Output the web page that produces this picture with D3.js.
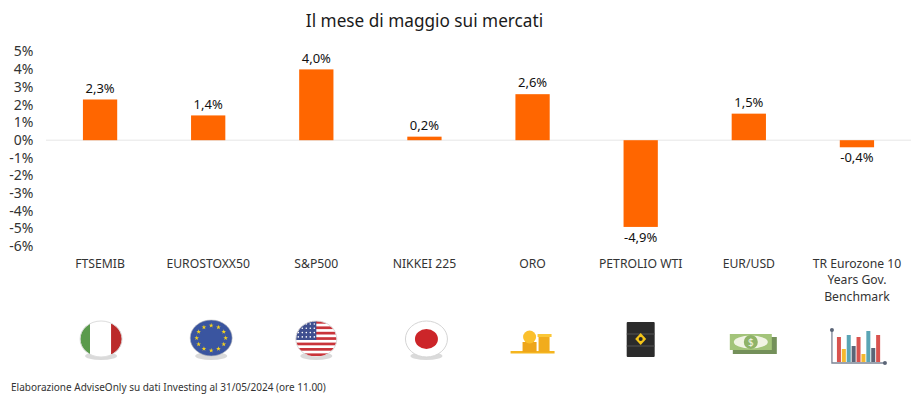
<!DOCTYPE html>
<html>
<head>
<meta charset="utf-8">
<script src="https://cdn.jsdelivr.net/npm/d3@7"></script>
<style>
  html, body { margin: 0; padding: 0; background: #fff; }
  text { font-family: "Noto Sans", sans-serif; }
</style>
</head>
<body>
<div id="chart"></div>
<script>
// Chart values
const categories = ["FTSEMIB", "EUROSTOXX50", "S&P500", "NIKKEI 225", "ORO", "PETROLIO WTI", "EUR/USD", "TR Eurozone 10|Years Gov.|Benchmark"];
const values = [2.3, 1.4, 4.0, 0.2, 2.6, -4.9, 1.5, -0.4];
const valueLabels = ["2,3%", "1,4%", "4,0%", "0,2%", "2,6%", "-4,9%", "1,5%", "-0,4%"];
const yTicks = [5, 4, 3, 2, 1, 0, -1, -2, -3, -4, -5, -6];
const iconNames = ["italy", "eu", "usa", "japan", "gold", "barrel", "cash", "bars"];
const title = "Il mese di maggio sui mercati";
const source = "Elaborazione AdviseOnly su dati Investing al 31/05/2024 (ore 11.00)";

const svg = d3.select("#chart").append("svg")
  .attr("width", 920)
  .attr("height", 406);

const x = d3.scaleBand().domain(categories).range([46, 911]).paddingInner(0.683).paddingOuter(0.3415);
const y = d3.scaleLinear().domain([-6, 5]).range([246.4, 51.7]);

svg.append("text")
  .attr("x", 424.5).attr("y", 27)
  .attr("text-anchor", "middle")
  .attr("font-size", 17.2)
  .attr("fill", "#1a1a1a")
  .text(title);

// y axis, labels only
const yAxis = svg.append("g")
  .attr("transform", "translate(33.5,0)")
  .call(d3.axisLeft(y).tickValues(yTicks).tickSize(0).tickPadding(0).tickFormat(d => d + "%"));
yAxis.select(".domain").remove();
yAxis.selectAll("text")
  .attr("font-size", 14)
  .attr("font-family", '"Noto Sans", sans-serif')
  .attr("dy", "0.3em")
  .attr("fill", "#333");

// zero line
svg.append("line")
  .attr("x1", 46).attr("x2", 911)
  .attr("y1", y(0)).attr("y2", y(0))
  .attr("stroke", "#e6e6e6");

svg.selectAll("rect.bar")
  .data(values)
  .enter()
  .append("rect")
  .attr("class", "bar")
  .attr("x", (d, i) => x(categories[i]))
  .attr("width", x.bandwidth())
  .attr("y", d => y(Math.max(d, 0)))
  .attr("height", d => Math.abs(y(d) - y(0)))
  .attr("fill", "#ff6600");

svg.selectAll("text.value")
  .data(values)
  .enter()
  .append("text")
  .attr("class", "value")
  .attr("x", (d, i) => x(categories[i]) + x.bandwidth() / 2)
  .attr("y", d => d >= 0 ? y(d) - 11.5 : y(d) + 10.5)
  .attr("dy", "0.36em")
  .attr("text-anchor", "middle")
  .attr("font-size", 13)
  .attr("fill", "#111")
  .text((d, i) => valueLabels[i]);

// category labels, some on several lines
const catGroup = svg.selectAll("g.cat")
  .data(categories)
  .enter()
  .append("g")
  .attr("class", "cat")
  .attr("transform", d => `translate(${x(d) + x.bandwidth() / 2},0)`);

catGroup.selectAll("text")
  .data(d => d.split("|"))
  .enter()
  .append("text")
  .attr("y", (d, i) => 267.5 + i * 16.5)
  .attr("text-anchor", "middle")
  .attr("font-size", 12.2)
  .attr("fill", "#333")
  .text(d => d);

function shadow(g, rx, cx) {
  g.append("ellipse").attr("cx", cx).attr("cy", 17).attr("rx", rx).attr("ry", 4).attr("fill", "#bbb").attr("opacity", 0.55);
}

// Icons under the labels, drawn around the centre of each band
const drawIcon = {
  italy(g, i) {
    shadow(g, 16, 1);
    const id = "clip" + i;
    g.append("clipPath").attr("id", id).append("ellipse").attr("cx", 1).attr("rx", 21).attr("ry", 18);
    const c = g.append("g").attr("clip-path", `url(#${id})`);
    c.append("rect").attr("x", -20).attr("y", -18).attr("width", 10).attr("height", 36).attr("fill", "#5a9a4c");
    c.append("rect").attr("x", -10).attr("y", -18).attr("width", 21).attr("height", 36).attr("fill", "#fff");
    c.append("rect").attr("x", 11).attr("y", -18).attr("width", 12).attr("height", 36).attr("fill", "#bb2a2a");
    g.append("ellipse").attr("cx", 1).attr("rx", 21).attr("ry", 18).attr("fill", "none").attr("stroke", "#ddd");
  },
  eu(g) {
    shadow(g, 16, 3);
    g.append("ellipse").attr("cx", 3).attr("cy", -1).attr("rx", 21).attr("ry", 18).attr("fill", "#3a55a0").attr("stroke", "#bbb").attr("stroke-width", 0.6);
    const star = d3.symbol().type(d3.symbolStar).size(7);
    d3.range(12).forEach(k => {
      const a = k * Math.PI / 6;
      g.append("path").attr("d", star)
        .attr("transform", `translate(${3 + 14.5 * Math.sin(a)},${-1 - 12.5 * Math.cos(a)})`)
        .attr("fill", "#f4d21f");
    });
  },
  usa(g, i) {
    shadow(g, 16, 0);
    const id = "clip" + i;
    g.append("clipPath").attr("id", id).append("ellipse").attr("rx", 20.5).attr("ry", 18);
    const c = g.append("g").attr("clip-path", `url(#${id})`);
    c.append("rect").attr("x", -21).attr("y", -18).attr("width", 42).attr("height", 36).attr("fill", "#fff");
    d3.range(7).forEach(k => {
      c.append("rect").attr("x", -21).attr("y", -18 + k * 5.4).attr("width", 42).attr("height", 2.7).attr("fill", "#c9343a");
    });
    c.append("rect").attr("x", -21).attr("y", -18).attr("width", 21).attr("height", 19).attr("fill", "#3f4f8f");
    d3.range(4).forEach(r => d3.range(5).forEach(k => {
      c.append("circle").attr("cx", -18 + k * 4).attr("cy", -15 + r * 4.3).attr("r", 0.8).attr("fill", "#fff");
    }));
    g.append("ellipse").attr("rx", 20.5).attr("ry", 18).attr("fill", "none").attr("stroke", "#ddd");
  },
  japan(g) {
    shadow(g, 16, 2);
    g.append("ellipse").attr("cx", 2).attr("rx", 21).attr("ry", 18).attr("fill", "#fff").attr("stroke", "#d5d5d5");
    g.append("ellipse").attr("cx", 2).attr("rx", 11.5).attr("ry", 10).attr("fill", "#cc2529");
  },
  gold(g) {
    g.append("rect").attr("x", -22).attr("y", 12).attr("width", 44).attr("height", 2.5).attr("fill", "#f5b51e");
    g.append("rect").attr("x", -10).attr("y", 3).attr("width", 14).attr("height", 10).attr("fill", "#eea51a");
    g.append("rect").attr("x", 6).attr("y", -3).attr("width", 11).attr("height", 16).attr("fill", "#f1ac1c");
    g.append("rect").attr("x", 5).attr("y", -5).attr("width", 14).attr("height", 3).attr("fill", "#fbc737");
    g.append("circle").attr("cx", -3).attr("cy", -2).attr("r", 6.5).attr("fill", "#fbc02d");
  },
  barrel(g) {
    g.append("rect").attr("x", -14).attr("y", -17).attr("width", 28).attr("height", 35).attr("rx", 1).attr("fill", "#2b2b2b");
    [-5, 7].forEach(v => g.append("line").attr("x1", -14).attr("x2", 14).attr("y1", v).attr("y2", v).attr("stroke", "#555"));
    g.append("path").attr("d", "M0,-6 L5.5,0 L0,6 L-5.5,0 Z").attr("fill", "#f5c518");
    g.append("circle").attr("r", 2).attr("fill", "#2b2b2b");
  },
  cash(g) {
    g.append("rect").attr("x", -16).attr("y", -2).attr("width", 44).attr("height", 17).attr("fill", "#74905a");
    g.append("rect").attr("x", -19).attr("y", -5).attr("width", 42).attr("height", 16).attr("fill", "#a3c47a");
    g.append("ellipse").attr("cx", 2).attr("cy", 3).attr("rx", 17).attr("ry", 6.5).attr("fill", "#f1f4e4");
    g.append("circle").attr("cx", 2).attr("cy", 3).attr("r", 7).attr("fill", "#8fb368");
    g.append("text").attr("x", 2).attr("y", 7).attr("text-anchor", "middle").attr("font-size", 10).attr("fill", "#f1f4e4").text("$");
  },
  bars(g) {
    const barColors = ["#d9534f", "#f5b82e", "#5aa5b5", "#5b6577", "#d9534f", "#f5b82e", "#5aa5b5", "#5b6577", "#d9534f"];
    const barHeights = [25, 13, 27, 16, 25, 8, 31, 14, 27];
    barHeights.forEach((h, k) => {
      g.append("rect").attr("x", -20 + k * 4.9).attr("y", 23 - h).attr("width", 4).attr("height", h).attr("fill", barColors[k]);
    });
    g.append("path").attr("d", "M-25,-9 V24 H28").attr("fill", "none").attr("stroke", "#7b8494").attr("stroke-width", 1.3);
    g.append("circle").attr("cx", -25).attr("cy", -9).attr("r", 2).attr("fill", "#5b6577");
    g.append("circle").attr("cx", 28).attr("cy", 24).attr("r", 2).attr("fill", "#5b6577");
  }
};

svg.selectAll("g.icon")
  .data(iconNames)
  .enter()
  .append("g")
  .attr("class", "icon")
  .attr("transform", (d, i) => `translate(${x(categories[i]) + x.bandwidth() / 2},339)`)
  .each(function(d, i) { drawIcon[d](d3.select(this), i); });

svg.append("text")
  .attr("x", 11).attr("y", 391)
  .attr("font-size", 10)
  .attr("fill", "#333")
  .text(source);
</script>
</body>
</html>
